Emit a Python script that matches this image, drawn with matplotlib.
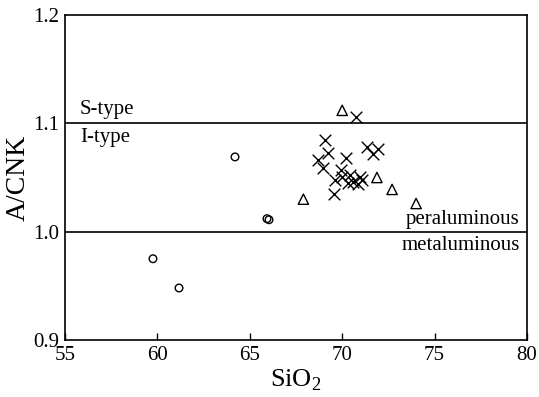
import matplotlib
matplotlib.use("Agg")
import matplotlib.pyplot as plt

plt.rcParams['font.family'] = ['Liberation Serif', 'DejaVu Serif']
plt.rcParams['mathtext.fontset'] = 'custom'
plt.rcParams['mathtext.rm'] = 'Liberation Serif'

# circles
circ_x = [64.2, 65.93, 66.04, 59.76, 61.17]
circ_y = [1.069, 1.012, 1.011, 0.975, 0.948]
# triangles
tri_x = [70.0, 71.88, 72.7, 67.9, 74.0]
tri_y = [1.112, 1.050, 1.039, 1.030, 1.026]
# crosses
crs_x = [70.75, 69.07, 69.23, 68.69, 68.96, 70.2, 71.34, 71.94, 71.67, 69.93,
         69.6, 70.0, 70.4, 70.3, 70.6, 70.96, 70.85, 71.07, 69.55]
crs_y = [1.106, 1.085, 1.073, 1.066, 1.059, 1.068, 1.078, 1.076, 1.072, 1.057,
         1.048, 1.050, 1.052, 1.045, 1.046, 1.050, 1.044, 1.048, 1.035]

fig = plt.figure(figsize=(5.39, 3.97), dpi=100)
ax = fig.add_axes([0.1206, 0.1436, 0.8571, 0.8186])

ax.axhline(1.1, color='black', lw=1.2)
ax.axhline(1.0, color='black', lw=1.2)

ax.scatter(circ_x, circ_y, s=30, facecolors='none', edgecolors='black', linewidths=1.0, zorder=3)
ax.scatter(tri_x, tri_y, s=55, marker='^', facecolors='none', edgecolors='black', linewidths=1.0, zorder=3)
ax.scatter(crs_x, crs_y, s=70, marker='x', color='black', linewidths=1.0, zorder=3)

ax.text(57.25, 1.113, 'S-type', fontsize=15, ha='center', va='center')
ax.text(57.2, 1.087, 'I-type', fontsize=15, ha='center', va='center')
ax.text(79.6, 1.011, 'peraluminous', fontsize=15, ha='right', va='center')
ax.text(79.6, 0.987, 'metaluminous', fontsize=15, ha='right', va='center')

ax.set_xlim(55, 80)
ax.set_ylim(0.9, 1.2)
ax.set_xticks([55, 60, 65, 70, 75, 80])
ax.set_yticks([0.9, 1.0, 1.1, 1.2])
ax.set_yticklabels(['0.9', '1.0', '1.1', '1.2'])
ax.tick_params(axis='x', direction='in', length=5, width=1, labelsize=15, pad=4)
ax.tick_params(axis='y', length=0, labelsize=15, pad=4)
for s in ax.spines.values():
    s.set_linewidth(1.2)

ax.set_xlabel('SiO$_2$', fontsize=19, labelpad=2)
ax.set_ylabel('A/CNK', fontsize=20, labelpad=2)

fig.savefig('out.png', dpi=100)
